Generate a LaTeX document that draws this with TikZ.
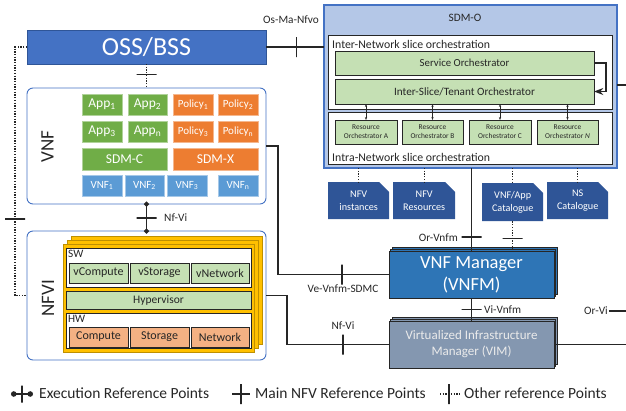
\documentclass[tikz,border=0pt]{standalone}
\usepackage{fontspec}
\setmainfont{Carlito}
\usetikzlibrary{arrows.meta}
\usetikzlibrary{shadows}
\usetikzlibrary{positioning}
\tikzset{>=Stealth}

\definecolor{ossblue}{HTML}{4472C4}
\definecolor{sdmblue}{HTML}{B4C7E7}
\definecolor{orchgreen}{HTML}{C5E0B4}
\definecolor{docblue}{HTML}{2F5597}
\definecolor{vnfmblue}{HTML}{2E75B6}
\definecolor{vimgray}{HTML}{8497B0}
\definecolor{appgreen}{HTML}{70AD47}
\definecolor{polorange}{HTML}{ED7D31}
\definecolor{vnfblue}{HTML}{5B9BD5}
\definecolor{hworange}{HTML}{F4B183}
\definecolor{nfviyellow}{HTML}{FFC000}
\definecolor{linegray}{HTML}{262626}

\newcommand{\fsz}[2]{\fontsize{#1}{#2}\selectfont}

\tikzset{
  box/.style={draw, inner sep=0pt, outer sep=0pt, anchor=north west, align=center},
  orch/.style={box, fill=orchgreen, draw=linegray, line width=0.8pt, minimum width=259pt, font=\fsz{11.2}{13}, text=linegray},
  ro/.style={box, fill=orchgreen, draw=linegray, line width=0.8pt, minimum width=62pt, minimum height=24pt, font=\fsz{7.4}{9}, text=linegray},
  panel/.style={box, fill=white, draw=linegray, line width=0.8pt},
  doc/.style={anchor=north west, inner sep=0pt, minimum width=61pt, minimum height=37pt, text=white, font=\fsz{10.2}{13}, align=center,
    path picture={\fill[docblue] (path picture bounding box.south west) -- (path picture bounding box.north west)
      -- ([xshift=-10pt]path picture bounding box.north east) -- ([yshift=-10pt]path picture bounding box.north east)
      -- (path picture bounding box.south east) -- cycle;}},
  app/.style={box, fill=appgreen, draw=appgreen!55, text=white, minimum width=40pt, minimum height=21pt, font=\fsz{13.5}{14}},
  pol/.style={app, fill=polorange, draw=polorange!55, font=\fsz{11}{12}},
  vnfbox/.style={app, fill=vnfblue, draw=vnfblue!55, font=\fsz{11}{12}},
  sw/.style={box, fill=orchgreen, draw=linegray, line width=0.8pt, minimum width=59pt, minimum height=20pt, font=\fsz{12}{13}, text=linegray},
  hw/.style={sw, fill=hworange},
  domainbox/.style={box, rounded corners=6pt, draw=ossblue, line width=0.9pt, fill=white, minimum width=239pt},
  conn/.style={draw=linegray, line width=1.2pt},
  dots/.style={conn, dash pattern=on 1.3pt off 1.4pt},
  vtick/.style={draw=linegray, line width=1.3pt, inner sep=0pt, outer sep=0pt, minimum width=0pt, minimum height=20pt},
  htick/.style={vtick, minimum width=20pt, minimum height=0pt},
  lbl/.style={font=\fsz{11.3}{13}, text=linegray, inner sep=1pt},
  leg/.style={font=\fsz{15.5}{17}, text=linegray, inner sep=0pt, anchor=west},
}

\begin{document}
\begin{tikzpicture}[x=1pt, y=-1pt]
\useasboundingbox (0,0) rectangle (626,410);

% OSS/BSS
\node[box, fill=ossblue, draw=docblue, line width=0.8pt, minimum width=239pt, minimum height=34pt, text=white, font=\fsz{26}{28}] (oss) at (27,30) {OSS/BSS};

% SDM-O
\node[box, fill=sdmblue, draw=ossblue, line width=1.2pt, minimum width=293pt, minimum height=163pt] (sdmo) at (324,5) {};
\node[lbl] (sdmoLbl) at (465,18) {SDM-O};
\node[panel, minimum width=284pt, minimum height=74pt] (inter) at (328,35) {};
\node[lbl, font=\fsz{11.8}{13}, anchor=west] (interLbl) at (331,44) {Inter-Network slice orchestration};
\node[orch, minimum height=24pt, font=\fsz{10.8}{13}] (so) at (335,51) {Service Orchestrator};
\node[orch, minimum height=25pt] (isl) at (335,79) {Inter-Slice/Tenant Orchestrator};
\node[panel, minimum width=284pt, minimum height=52pt] (intra) at (328,112) {};
\node[lbl, font=\fsz{11.8}{13}, anchor=west] (intraLbl) at (331,157) {Intra-Network slice orchestration};
\node[ro] (roA) at (335,120) {Resource\\Orchestrator A};
\node[ro, minimum width=61pt] (roB) at (402,120) {Resource\\Orchestrator B};
\node[ro] (roC) at (469,120) {Resource\\Orchestrator C};
\node[ro, minimum width=61pt] (roN) at (537,120) {Resource\\Orchestrator \textit{N}};
\draw[conn, line width=1.4pt, ->] (so.east) -- ++(12,0) |- (isl.east);
\foreach \r in {roA,roB,roC,roN}
  \draw[conn, line width=0.9pt, <->, >={Stealth[length=3pt]}] (\r.north |- isl.south) -- (\r.north);

% catalogues
\node[doc] (inst) at (328,182) {NFV\\instances};
\node[doc, minimum width=62pt] (res) at (393,182) {NFV\\Resources};
\node[doc, minimum height=38pt] (vnfcat) at (482,183) {VNF/App\\Catalogue};
\node[doc] (nscat) at (547,182) {NS\\Catalogue};
\foreach \d in {inst,res,vnfcat,nscat}
  \draw[dots] (\d.north |- sdmo.south) -- (\d.north);

% VNFM and VIM
\node[box, fill=vnfmblue, draw=linegray, line width=0.8pt, minimum width=165pt, minimum height=47pt, text=white, font=\fsz{18.5}{22},
  double copy shadow={shadow xshift=1.8pt, shadow yshift=1.8pt}] (vnfm) at (389,251) {VNF Manager\\(VNFM)};
\node[box, fill=vimgray, draw=linegray, line width=0.8pt, minimum width=165pt, minimum height=47pt, text=white!92!black, font=\fsz{13}{16},
  double copy shadow={shadow xshift=1.8pt, shadow yshift=1.8pt}] (vim) at (389,321) {Virtualized Infrastructure\\Manager (VIM)};

% VNF domain
\node[domainbox, minimum height=116pt] (vnf) at (27,88) {};
\node[rotate=90, font=\fsz{19}{21}, text=linegray] (vnfLbl) at (47.5,146.5) {VNF};
\node[app] (app1) at (82,94) {App\textsubscript{1}};
\node[app, minimum width=39pt] (app2) at (128,94) {App\textsubscript{2}};
\node[pol] (pol1) at (173,94) {Policy\textsubscript{1}};
\node[pol] (pol2) at (218,94) {Policy\textsubscript{2}};
\node[app] (app3) at (82,121) {App\textsubscript{3}};
\node[app, minimum width=39pt] (appn) at (128,121) {App\textsubscript{n}};
\node[pol] (pol3) at (173,121) {Policy\textsubscript{3}};
\node[pol] (poln) at (218,121) {Policy\textsubscript{n}};
\node[app, minimum width=85pt, minimum height=22pt] (sdmc) at (82,148) {SDM-C};
\node[pol, minimum width=85pt, minimum height=22pt, font=\fsz{13.5}{14}] (sdmx) at (173,148) {SDM-X};
\node[vnfbox] (vnf1) at (82,175) {VNF\textsubscript{1}};
\node[vnfbox, minimum width=39pt] (vnf2) at (125,175) {VNF\textsubscript{2}};
\node[vnfbox] (vnf3) at (167,175) {VNF\textsubscript{3}};
\node[vnfbox] (vnfn) at (218,175) {VNF\textsubscript{n}};

% NFVI domain
\node[domainbox, minimum height=129pt] (nfvi) at (27,231) {};
\node[rotate=90, font=\fsz{19}{21}, text=linegray] (nfviLbl) at (48,298) {NFVI};
\node[box, fill=nfviyellow, draw=nfviyellow!75!black, line width=0.7pt, minimum width=191pt, minimum height=108pt,
  double copy shadow={shadow xshift=4pt, shadow yshift=4pt}] (stack) at (63,244) {};
\node[panel, minimum width=185pt, minimum height=39pt] (swp) at (66,248) {};
\node[lbl, anchor=north west] (swLbl) at (67,249) {SW};
\node[sw] (vcomp) at (69,263) {vCompute};
\node[sw] (vstor) at (130,263) {vStorage};
\node[sw, minimum width=58pt] (vnet) at (191,263) {vNetwork};
\node[sw, minimum width=185pt, minimum height=18pt, font=\fsz{11.5}{13}] (hyp) at (66,291) {Hypervisor};
\node[panel, minimum width=185pt, minimum height=35pt] (hwp) at (66,313) {};
\node[lbl, anchor=north west] (hwLbl) at (67,314) {HW};
\node[hw] (comp) at (69,327) {Compute};
\node[hw] (stor) at (130,327) {Storage};
\node[hw, minimum width=58pt] (net) at (191,327) {Network};

% reference points
\draw[conn] (oss.east) -- (oss.east -| sdmo.west) node[vtick, pos=.52] (osmaTick) {};
\node[lbl] (osmaLbl) at (291,20) {Os-Ma-Nfvo};
\coordinate (sdmoOut) at (626,85);
\draw[conn] (sdmoOut -| sdmo.east) -- (sdmoOut);

\draw[conn] (vnfm.north |- sdmo.south) -- (vnfm.north) node[htick, pos=.83] (orvnfmTick) {};
\node[lbl, anchor=east] (orvnfmLbl) at (459,238) {Or-Vnfm};
\draw[dots] (vnfcat.south) -- (vnfcat.south |- vnfm.north) node[htick, pos=.57, dash pattern=] (catTick) {};
\draw[conn] (vnfm.south) -- (vim.north) node[htick, pos=.5] (vivnfmTick) {};
\node[lbl, anchor=west] (vivnfmLbl) at (483,310) {Vi-Vnfm};

\coordinate (veBend) at (278,146);
\draw[conn] (vnf.east) -- (veBend) |- (vnfm.west);
\node[vtick] (veTick) at (342,274.5) {};
\node[lbl] (veLbl) at (343,289) {Ve-Vnfm-SDMC};

\coordinate (nfBend) at (287,295.5);
\draw[conn] (nfvi.east) -- (nfBend) |- (vim.west);
\node[vtick] (nfTick) at (343,344.5) {};
\node[lbl] (nfLbl) at (343,326) {Nf-Vi};

\coordinate (vimOut) at (626,344.5);
\draw[conn] (vim.east) -- (vimOut);
\node[lbl] (orviLbl) at (596,311) {Or-Vi};
\coordinate (orviOut) at (626,311);
\draw[conn] (orviLbl.east) -- (orviOut);

\draw[dots] (oss.south) -- (vnf.north) node[htick, pos=.45, dash pattern=] (ossTick) {};
\draw[conn, {Circle[length=5pt]}-{Circle[length=5pt]}, shorten <=-2.5pt, shorten >=-2.5pt] (vnf.south) -- (nfvi.north)
  node[htick, pos=.52] (nfviTick) {};
\node[lbl, anchor=west] (nfviTopLbl) at (163,218) {Nf-Vi};

\coordinate (leftBend) at (15,47);
\draw[dots] (oss.west) -- (leftBend) |- (nfvi.west);
\node[htick] (leftTick) at (15,219) {};

% legend
\coordinate (exA) at (11,394);
\coordinate (exB) at (33,394);
\draw[conn, {Circle[length=5.5pt]}-{Circle[length=5.5pt]}] (exA) -- (exB) node[vtick, pos=.5, minimum height=17pt] (exTick) {};
\node[leg] (exLbl) at (39,393) {Execution Reference Points};
\coordinate (mnA) at (232,394);
\coordinate (mnB) at (250,394);
\draw[conn] (mnA) -- (mnB) node[vtick, pos=.5] (mnTick) {};
\node[leg] (mnLbl) at (255,393) {Main NFV Reference Points};
\coordinate (otA) at (440,394);
\coordinate (otB) at (460,394);
\draw[dots] (otA) -- (otB) node[vtick, pos=.45, dash pattern=] (otTick) {};
\node[leg] (otLbl) at (464,393) {Other reference Points};
\end{tikzpicture}
\end{document}
